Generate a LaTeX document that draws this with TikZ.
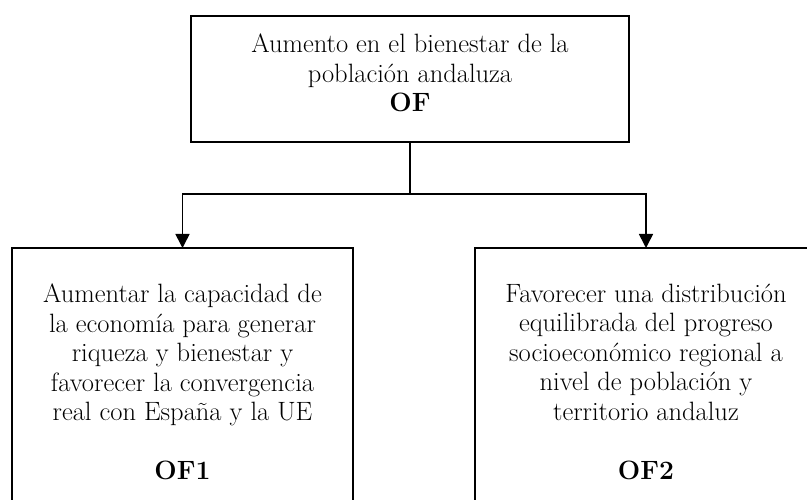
\documentclass[tikz,border=0pt]{standalone}
\usepackage{fontspec}
\usetikzlibrary{positioning,arrows.meta}
\tikzset{
  objbox/.style={draw, line width=1.6pt, inner sep=0pt, outer sep=0pt},
  objtext/.style={align=center, inner sep=0pt, font=\fontsize{26.5}{29.5}\selectfont},
}
\begin{document}
\begin{tikzpicture}[>={Triangle[length=14pt,width=14pt]}, x=1pt, y=-1pt, line width=1.6pt]
\useasboundingbox (0,0) rectangle (807,500);
\clip (0,0) rectangle (807,500);
% boxes
\node[objbox, minimum width=438pt, minimum height=126pt, anchor=north] (of) at (410,16) {};
\node[objbox, minimum width=341pt, minimum height=300pt, anchor=north] (of1) at (182.5,248) {};
\node[objbox, minimum width=342pt, minimum height=300pt, anchor=north] (of2) at (646,248) {};
% texts
\node[objtext, below=17pt of of.north] (oftext) {Aumento en el bienestar de la\\ población andaluza\\ \textbf{OF}};
\node[objtext, below=35pt of of1.north] (of1text) {Aumentar la capacidad de\\ la economía para generar\\ riqueza y bienestar y\\ favorecer la convergencia\\ real con España y la UE\\[29.5pt] \textbf{OF1}};
\node[objtext, below=35pt of of2.north] (of2text) {Favorecer una distribución\\ equilibrada del progreso\\ socioeconómico regional a\\ nivel de población y\\ territorio andaluz\\[29.5pt] \textbf{OF2}};
% connectors
\coordinate (split) at (410,194);
\draw (of.south) -- (split);
\draw[->] (split) -| (of1.north);
\draw[->] (split) -| (of2.north);
\end{tikzpicture}
\end{document}
